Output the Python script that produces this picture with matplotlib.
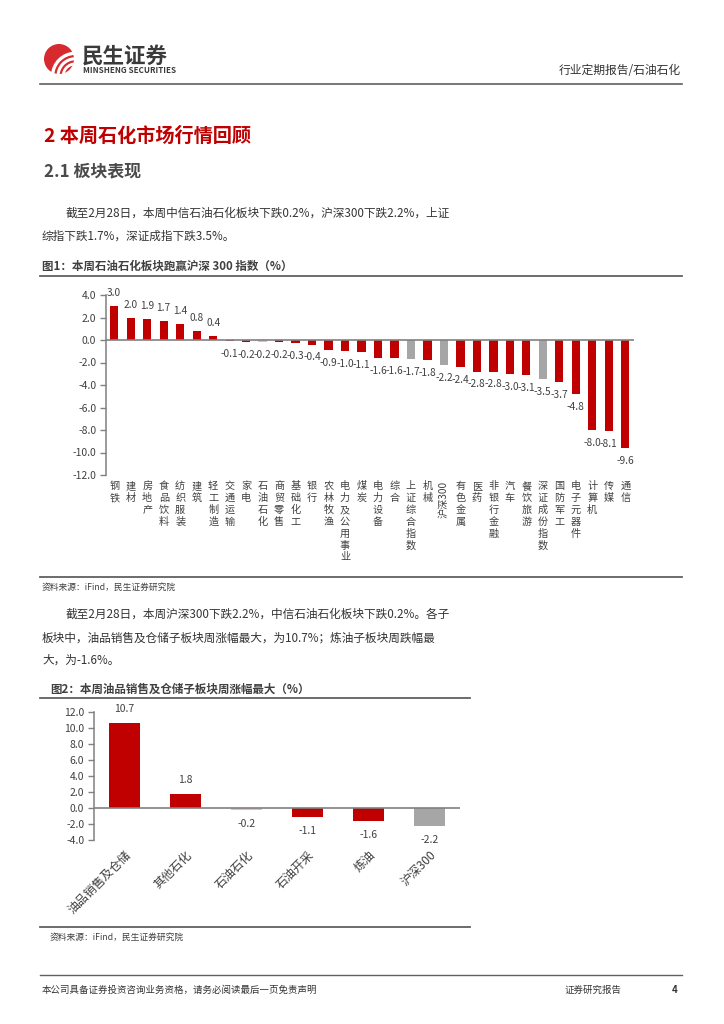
import matplotlib
matplotlib.use('Agg')
import matplotlib.pyplot as plt
from matplotlib.lines import Line2D
from matplotlib.patches import Circle, Arc
import numpy as np

plt.rcParams['font.family'] = ['Noto Sans CJK SC', 'DejaVu Sans']

# ---------------- data ----------------
sectors = ['钢铁', '建材', '房地产', '食品饮料', '纺织服装', '建筑', '轻工制造', '交通运输',
           '家电', '石油石化', '商贸零售', '基础化工', '银行', '农林牧渔', '电力及公用事业', '煤炭',
           '电力设备', '综合', '上证综合指数', '机械', '沪深300', '有色金属', '医药', '非银行金融',
           '汽车', '餐饮旅游', '深证成份指数', '国防军工', '电子元器件', '计算机', '传媒', '通信']
sector_values = [3.0, 2.0, 1.9, 1.7, 1.4, 0.8, 0.4, -0.1,
                 -0.2, -0.2, -0.2, -0.3, -0.4, -0.9, -1.0, -1.1,
                 -1.6, -1.6, -1.7, -1.8, -2.2, -2.4, -2.8, -2.8,
                 -3.0, -3.1, -3.5, -3.7, -4.8, -8.0, -8.1, -9.6]
index_names = ['上证综合指数', '沪深300', '深证成份指数']
highlight_name = '石油石化'

subsectors = ['油品销售及仓储', '其他石化', '石油石化', '石油开采', '炼油', '沪深300']
subsector_values = [10.7, 1.8, -0.2, -1.1, -1.6, -2.2]

y1_ticks = [4.0, 2.0, 0.0, -2.0, -4.0, -6.0, -8.0, -10.0, -12.0]
y2_ticks = [12.0, 10.0, 8.0, 6.0, 4.0, 2.0, 0.0, -2.0, -4.0]

# ---------------- style ----------------
RED = '#C00000'
PINK = '#F4B6B6'
GRAY = '#A6A6A6'
TXT = '#404040'
AX = '#808080'

def bar_color(name):
    if name in index_names:
        return GRAY
    if name == highlight_name:
        return PINK
    return RED

W, H = 724, 1024
fig = plt.figure(figsize=(W / 100, H / 100), dpi=100)

def fx(x):
    return x / W

def fy(y):
    return 1 - y / H

def hline(x0, x1, y, color='#606060', lw=1.0):
    fig.add_artist(Line2D([fx(x0), fx(x1)], [fy(y), fy(y)], transform=fig.transFigure,
                          color=color, lw=lw))

def txt(x, y, s, size, color='#333333', weight='normal', ha='left'):
    fig.text(fx(x), fy(y), s, fontsize=size, color=color, fontweight=weight,
             ha=ha, va='center')

# ---------------- header ----------------
lax = fig.add_axes([fx(44), fy(74), 30 / W, 30 / H])
lax.set_xlim(-1.05, 1.05)
lax.set_ylim(-1.05, 1.05)
lax.set_aspect('equal')
lax.axis('off')
lax.add_patch(Circle((0, 0), 1.0, color='#D62A2F'))
for r, lw in [(1.6, 2.4), (1.22, 2.2), (0.86, 2.0)]:
    lax.add_patch(Arc((1.15, -1.2), 2 * r, 2 * r, theta1=92, theta2=178, color='white', lw=lw))
txt(82, 56, '民生证券', 15.5, color='#3a3a3a', weight='bold')
txt(83, 70.5, 'MINSHENG SECURITIES', 5.8, color='#3a3a3a', weight='bold')
txt(681, 71, '行业定期报告/石油石化', 8.5, color='#333333', ha='right')
hline(40, 682, 84, color='#606060', lw=1.2)

# ---------------- section titles ----------------
txt(44, 136, '2 本周石化市场行情回顾', 13.8, color=RED, weight='bold')
txt(44, 171, '2.1 板块表现', 12.2, color='#4a4a4a', weight='bold')

txt(66, 213, '截至2月28日，本周中信石油石化板块下跌0.2%，沪深300下跌2.2%，上证', 8.4)
txt(42, 236, '综指下跌1.7%，深证成指下跌3.5%。', 8.4)

txt(42, 266, '图1：本周石油石化板块跑赢沪深 300 指数（%）', 8.3, color='#404040', weight='bold')
hline(40, 682, 276, color='#606060', lw=1.3)

# ---------------- chart 1 ----------------
ax1 = fig.add_axes([fx(106), fy(475), (633.5 - 106) / W, (475 - 295) / H])
x1 = np.arange(len(sectors))
ax1.bar(x1, sector_values, width=0.5, color=[bar_color(n) for n in sectors], zorder=2)
ax1.set_xlim(-0.5, len(sectors) - 0.5)
ax1.set_ylim(-12, 4)
ax1.set_yticks(y1_ticks)
ax1.set_yticklabels([f'{v:.1f}' for v in y1_ticks], fontsize=7.5, color=TXT)
ax1.tick_params(axis='y', length=4, width=1, color=AX, pad=3)
ax1.set_xticks([])
for s in ['top', 'right', 'bottom']:
    ax1.spines[s].set_visible(False)
ax1.spines['left'].set_color(AX)
ax1.spines['left'].set_linewidth(1.1)
ax1.axhline(0, color=AX, lw=1.2, zorder=3)
for xi, v in zip(x1, sector_values):
    ax1.annotate(f'{v:.1f}', (xi, v), xytext=(0, 9.3 if v >= 0 else -9.3),
                 textcoords='offset points', ha='center', va='center',
                 fontsize=7.3, color=TXT)
for xi, name in zip(x1, sectors):
    if name.isascii() or any(c.isdigit() for c in name):
        ax1.text(xi, -0.035, name, transform=ax1.get_xaxis_transform(),
                 ha='center', va='top', rotation=90, fontsize=7.3, color=TXT)
    else:
        ax1.text(xi, -0.035, '\n'.join(name), transform=ax1.get_xaxis_transform(),
                 ha='center', va='top', fontsize=7.3, color=TXT, linespacing=1.23)

hline(40, 682, 577, color='#606060', lw=1.3)
txt(42, 587, '资料来源：iFind，民生证券研究院', 6.3, color='#404040')

# ---------------- paragraph 2 ----------------
txt(66, 614, '截至2月28日，本周沪深300下跌2.2%，中信石油石化板块下跌0.2%。各子', 8.4)
txt(42, 638, '板块中，油品销售及仓储子板块周涨幅最大，为10.7%；炼油子板块周跌幅最', 8.4)
txt(42, 660, '大，为-1.6%。', 8.4)

txt(50, 689, '图2：本周油品销售及仓储子板块周涨幅最大（%）', 8.3, color='#404040', weight='bold')
hline(40, 470, 698, color='#606060', lw=1.3)

# ---------------- chart 2 ----------------
ax2 = fig.add_axes([fx(94), fy(840), (460 - 94) / W, (840 - 712.3) / H])
x2 = np.arange(len(subsectors))
ax2.bar(x2, subsector_values, width=0.5, color=[bar_color(n) for n in subsectors], zorder=2)
ax2.set_xlim(-0.5, len(subsectors) - 0.5)
ax2.set_ylim(-4, 12)
ax2.set_yticks(y2_ticks)
ax2.set_yticklabels([f'{v:.1f}' for v in y2_ticks], fontsize=7.5, color=TXT)
ax2.tick_params(axis='y', length=4, width=1, color=AX, pad=3)
ax2.set_xticks(x2)
ax2.set_xticklabels(subsectors, rotation=45, ha='right', rotation_mode='anchor',
                    fontsize=8.6, color=TXT)
ax2.tick_params(axis='x', length=0, pad=6)
for s in ['top', 'right', 'bottom']:
    ax2.spines[s].set_visible(False)
ax2.spines['left'].set_color(AX)
ax2.spines['left'].set_linewidth(1.1)
ax2.axhline(0, color=AX, lw=1.2, zorder=3)
for xi, v in zip(x2, subsector_values):
    ax2.annotate(f'{v:.1f}', (xi, v), xytext=(0, 10 if v >= 0 else -10.5),
                 textcoords='offset points', ha='center', va='center',
                 fontsize=7.5, color=TXT)

hline(40, 470, 927, color='#606060', lw=1.3)
txt(50, 937, '资料来源：iFind，民生证券研究院', 6.3, color='#404040')

# ---------------- footer ----------------
hline(40, 682, 975, color='#606060', lw=1.0)
txt(42, 990, '本公司具备证券投资咨询业务资格，请务必阅读最后一页免责声明', 6.8, color='#333333')
txt(565, 990, '证券研究报告', 6.8, color='#333333')
txt(672, 990, '4', 7, color='#333333', weight='bold')

fig.savefig('out.png', dpi=100)
